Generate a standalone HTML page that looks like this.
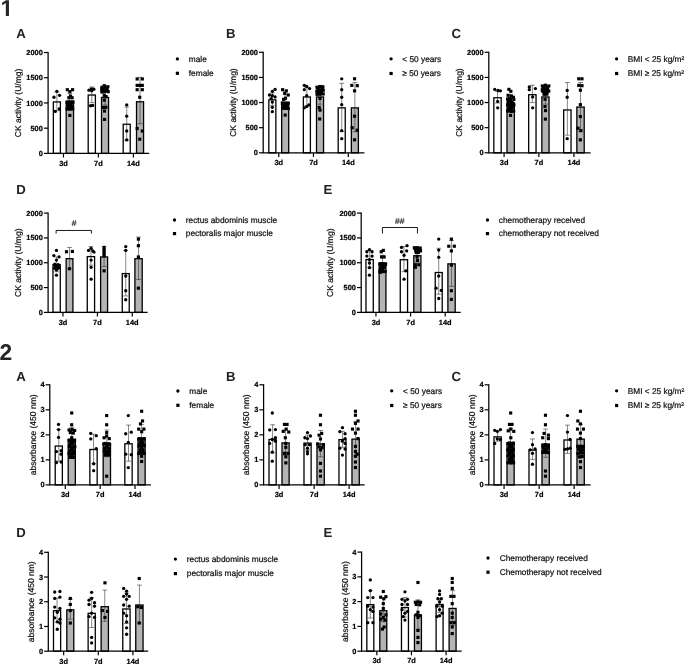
<!DOCTYPE html>
<html><head><meta charset="utf-8"><title>Figure</title>
<style>
html,body{margin:0;padding:0;background:#fff;}
body{width:685px;height:664px;overflow:hidden;font-family:"Liberation Sans", sans-serif;}
svg{display:block;filter:grayscale(1);font-family:"Liberation Sans", sans-serif;}
</style></head><body>
<svg width="685" height="664" viewBox="0 0 685 664" text-rendering="geometricPrecision">
<rect width="685" height="664" fill="#fff"/>
<text x="0.6" y="16.3" font-size="22.8" font-weight="700" fill="#262626">1</text>
<path d="M0 13H5.82V17H0ZM8.96 13H14V17H8.96Z" fill="#fff"/>
<text x="-0.6" y="360.2" font-size="22.8" font-weight="700" fill="#262626">2</text>
<!-- panel 1A -->
<rect x="53.35" y="101.93" width="7.03" height="51.47" fill="#fff" stroke="#000" stroke-width="1.3"/>
<path d="M56.86 92.12V110.75M54.46 92.12H59.26M54.46 110.75H59.26" stroke="#222" stroke-width="0.55" fill="none"/>
<circle cx="56.86" cy="91.32" r="1.65"/>
<circle cx="53.97" cy="97.26" r="1.65"/>
<circle cx="59.59" cy="95.33" r="1.65"/>
<circle cx="59.27" cy="108.98" r="1.65"/>
<circle cx="55.26" cy="111.39" r="1.65"/>
<rect x="66.19" y="101.77" width="7.35" height="51.63" fill="#b4b4b4" stroke="#000" stroke-width="1.3"/>
<path d="M69.87 93.72V108.82M67.47 93.72H72.27M67.47 108.82H72.27" stroke="#222" stroke-width="0.55" fill="none"/>
<rect x="65.73" y="88.13" width="3.15" height="3.15"/>
<rect x="71.02" y="88.13" width="3.15" height="3.15"/>
<rect x="68.29" y="90.06" width="3.15" height="3.15"/>
<rect x="67.33" y="96.16" width="3.15" height="3.15"/>
<rect x="70.54" y="96.16" width="3.15" height="3.15"/>
<rect x="68.94" y="94.56" width="3.15" height="3.15"/>
<rect x="66.05" y="100.5" width="3.15" height="3.15"/>
<rect x="68.62" y="100.5" width="3.15" height="3.15"/>
<rect x="71.02" y="100.98" width="3.15" height="3.15"/>
<rect x="66.53" y="103.07" width="3.15" height="3.15"/>
<rect x="69.26" y="103.39" width="3.15" height="3.15"/>
<rect x="67.33" y="105.48" width="3.15" height="3.15"/>
<rect x="70.22" y="105.8" width="3.15" height="3.15"/>
<rect x="68.29" y="107.41" width="3.15" height="3.15"/>
<rect x="68.29" y="113.83" width="3.15" height="3.15"/>
<rect x="65.52" y="100.62" width="3.15" height="3.15"/>
<rect x="68.27" y="100.53" width="3.15" height="3.15"/>
<rect x="71.29" y="100.25" width="3.15" height="3.15"/>
<rect x="66.77" y="104.03" width="3.15" height="3.15"/>
<rect x="69.58" y="104.18" width="3.15" height="3.15"/>
<rect x="65.51" y="107.41" width="3.15" height="3.15"/>
<rect x="68.23" y="107.45" width="3.15" height="3.15"/>
<rect x="71.11" y="107.37" width="3.15" height="3.15"/>
<rect x="88.2" y="95.03" width="7.19" height="58.37" fill="#fff" stroke="#000" stroke-width="1.3"/>
<path d="M91.79 86.98V102.56M89.39 86.98H94.19M89.39 102.56H94.19" stroke="#222" stroke-width="0.55" fill="none"/>
<circle cx="88.98" cy="90.19" r="1.65"/>
<circle cx="91.39" cy="88.91" r="1.65"/>
<circle cx="93.8" cy="89.23" r="1.65"/>
<circle cx="91.71" cy="90.83" r="1.65"/>
<circle cx="90.59" cy="105.77" r="1.65"/>
<circle cx="92.67" cy="105.45" r="1.65"/>
<rect x="101.52" y="97.44" width="7.03" height="55.96" fill="#b4b4b4" stroke="#000" stroke-width="1.3"/>
<path d="M105.04 88.91V104.97M102.64 88.91H107.44M102.64 104.97H107.44" stroke="#222" stroke-width="0.55" fill="none"/>
<rect x="102.66" y="84.12" width="3.15" height="3.15"/>
<rect x="100.25" y="87.01" width="3.15" height="3.15"/>
<rect x="102.66" y="87.33" width="3.15" height="3.15"/>
<rect x="105.39" y="87.01" width="3.15" height="3.15"/>
<rect x="100.25" y="89.26" width="3.15" height="3.15"/>
<rect x="102.98" y="89.74" width="3.15" height="3.15"/>
<rect x="105.87" y="89.26" width="3.15" height="3.15"/>
<rect x="102.66" y="93.76" width="3.15" height="3.15"/>
<rect x="104.59" y="95.04" width="3.15" height="3.15"/>
<rect x="102.66" y="98.57" width="3.15" height="3.15"/>
<rect x="101.54" y="105.8" width="3.15" height="3.15"/>
<rect x="104.27" y="105.8" width="3.15" height="3.15"/>
<rect x="102.98" y="109.49" width="3.15" height="3.15"/>
<rect x="102.98" y="117.84" width="3.15" height="3.15"/>
<rect x="100.46" y="85.65" width="3.15" height="3.15"/>
<rect x="103.37" y="85.17" width="3.15" height="3.15"/>
<rect x="106.3" y="85.17" width="3.15" height="3.15"/>
<rect x="102" y="87.83" width="3.15" height="3.15"/>
<rect x="105.01" y="87.87" width="3.15" height="3.15"/>
<rect x="100.48" y="90.5" width="3.15" height="3.15"/>
<rect x="103.26" y="89.99" width="3.15" height="3.15"/>
<rect x="106.64" y="90.14" width="3.15" height="3.15"/>
<rect x="123.2" y="124.25" width="7.03" height="29.15" fill="#fff" stroke="#000" stroke-width="1.3"/>
<path d="M126.72 107.05V140.3M124.32 107.05H129.12M124.32 140.3H129.12" stroke="#222" stroke-width="0.55" fill="none"/>
<circle cx="126.72" cy="104.97" r="1.65"/>
<circle cx="126.72" cy="116.21" r="1.65"/>
<circle cx="126.72" cy="130.98" r="1.65"/>
<circle cx="126.72" cy="139.97" r="1.65"/>
<rect x="136.53" y="101.77" width="7.03" height="51.63" fill="#b4b4b4" stroke="#000" stroke-width="1.3"/>
<path d="M140.05 77.34V123.75M137.65 77.34H142.45M137.65 123.75H142.45" stroke="#222" stroke-width="0.55" fill="none"/>
<rect x="135.58" y="77.37" width="3.15" height="3.15"/>
<rect x="140.72" y="77.37" width="3.15" height="3.15"/>
<rect x="135.58" y="83.8" width="3.15" height="3.15"/>
<rect x="138.15" y="83.8" width="3.15" height="3.15"/>
<rect x="140.72" y="83.8" width="3.15" height="3.15"/>
<rect x="135.58" y="88.13" width="3.15" height="3.15"/>
<rect x="140.72" y="88.13" width="3.15" height="3.15"/>
<rect x="138.15" y="95.68" width="3.15" height="3.15"/>
<rect x="135.58" y="127" width="3.15" height="3.15"/>
<rect x="140.72" y="129.41" width="3.15" height="3.15"/>
<rect x="138.15" y="137.6" width="3.15" height="3.15"/>
<path d="M48.1 52V153.9M47.6 153.4H149.2" stroke="#000" stroke-width="1.25" fill="none"/>
<path d="M43.9 153.4H48.1" stroke="#000" stroke-width="1.2"/>
<text x="42.8" y="155.95" text-anchor="end" font-size="7.4" font-weight="700" stroke="#000" stroke-width="0.22">0</text>
<path d="M43.9 128.18H48.1" stroke="#000" stroke-width="1.2"/>
<text x="42.8" y="130.73" text-anchor="end" font-size="7.4" font-weight="700" stroke="#000" stroke-width="0.22">500</text>
<path d="M43.9 102.95H48.1" stroke="#000" stroke-width="1.2"/>
<text x="42.8" y="105.5" text-anchor="end" font-size="7.4" font-weight="700" stroke="#000" stroke-width="0.22">1000</text>
<path d="M43.9 77.72H48.1" stroke="#000" stroke-width="1.2"/>
<text x="42.8" y="80.27" text-anchor="end" font-size="7.4" font-weight="700" stroke="#000" stroke-width="0.22">1500</text>
<path d="M43.9 52.5H48.1" stroke="#000" stroke-width="1.2"/>
<text x="42.8" y="55.05" text-anchor="end" font-size="7.4" font-weight="700" stroke="#000" stroke-width="0.22">2000</text>
<path d="M63.45 153.4V157.5" stroke="#000" stroke-width="1.2"/>
<text x="63.45" y="165.5" text-anchor="middle" font-size="7.4" font-weight="700" stroke="#000" stroke-width="0.22">3d</text>
<path d="M98.37 153.4V157.5" stroke="#000" stroke-width="1.2"/>
<text x="98.37" y="165.5" text-anchor="middle" font-size="7.4" font-weight="700" stroke="#000" stroke-width="0.22">7d</text>
<path d="M133.38 153.4V157.5" stroke="#000" stroke-width="1.2"/>
<text x="133.38" y="165.5" text-anchor="middle" font-size="7.4" font-weight="700" stroke="#000" stroke-width="0.22">14d</text>
<text transform="translate(20.9 102.95) rotate(-90)" text-anchor="middle" font-size="8.5" fill="#111" stroke="#111" stroke-width="0.22">CK activity (U/mg)</text>
<text x="16.3" y="38" font-size="13.2" font-weight="700" fill="#222">A</text>
<circle cx="177.4" cy="58.9" r="1.65"/>
<rect x="175.8" y="71.7" width="3.2" height="3.2"/>
<text x="188.8" y="61.7" font-size="8.3" fill="#111" stroke="#111" stroke-width="0.22">male</text>
<text x="188.8" y="76.1" font-size="8.3" fill="#111" stroke="#111" stroke-width="0.22">female</text>
<!-- panel 1B -->
<rect x="268.83" y="99.84" width="7.03" height="52.96" fill="#fff" stroke="#000" stroke-width="1.3"/>
<path d="M272.34 92.92V105.77M269.94 92.92H274.74M269.94 105.77H274.74" stroke="#222" stroke-width="0.55" fill="none"/>
<circle cx="275.07" cy="89.39" r="1.65"/>
<circle cx="272.34" cy="91.32" r="1.65"/>
<circle cx="269.45" cy="95.01" r="1.65"/>
<circle cx="272.34" cy="95.65" r="1.65"/>
<circle cx="275.07" cy="96.94" r="1.65"/>
<circle cx="271.06" cy="98.54" r="1.65"/>
<circle cx="272.34" cy="102.07" r="1.65"/>
<circle cx="272.34" cy="107.37" r="1.65"/>
<circle cx="272.34" cy="111.71" r="1.65"/>
<rect x="281.68" y="102.57" width="7.03" height="50.23" fill="#b4b4b4" stroke="#000" stroke-width="1.3"/>
<path d="M285.19 94.53V109.46M282.79 94.53H287.59M282.79 109.46H287.59" stroke="#222" stroke-width="0.55" fill="none"/>
<rect x="281.05" y="88.13" width="3.15" height="3.15"/>
<rect x="284.74" y="89.26" width="3.15" height="3.15"/>
<rect x="283.13" y="91.67" width="3.15" height="3.15"/>
<rect x="286.67" y="93.43" width="3.15" height="3.15"/>
<rect x="283.94" y="96.65" width="3.15" height="3.15"/>
<rect x="282.01" y="97.77" width="3.15" height="3.15"/>
<rect x="281.05" y="101.46" width="3.15" height="3.15"/>
<rect x="283.94" y="101.78" width="3.15" height="3.15"/>
<rect x="286.35" y="102.11" width="3.15" height="3.15"/>
<rect x="282.33" y="104.19" width="3.15" height="3.15"/>
<rect x="285.06" y="104.68" width="3.15" height="3.15"/>
<rect x="283.62" y="106.6" width="3.15" height="3.15"/>
<rect x="283.62" y="113.51" width="3.15" height="3.15"/>
<rect x="280.75" y="101.69" width="3.15" height="3.15"/>
<rect x="283.69" y="101.77" width="3.15" height="3.15"/>
<rect x="286.61" y="101.48" width="3.15" height="3.15"/>
<rect x="282.33" y="103.91" width="3.15" height="3.15"/>
<rect x="284.88" y="103.81" width="3.15" height="3.15"/>
<rect x="280.95" y="106.73" width="3.15" height="3.15"/>
<rect x="283.75" y="106.34" width="3.15" height="3.15"/>
<rect x="286.63" y="106.91" width="3.15" height="3.15"/>
<rect x="303.36" y="96.95" width="7.03" height="55.85" fill="#fff" stroke="#000" stroke-width="1.3"/>
<path d="M306.87 87.3V105.45M304.47 87.3H309.27M304.47 105.45H309.27" stroke="#222" stroke-width="0.55" fill="none"/>
<circle cx="304.3" cy="85.37" r="1.65"/>
<circle cx="306.71" cy="86.5" r="1.65"/>
<circle cx="309.6" cy="88.59" r="1.65"/>
<circle cx="304.3" cy="89.71" r="1.65"/>
<circle cx="306.71" cy="95.65" r="1.65"/>
<circle cx="308.8" cy="104.97" r="1.65"/>
<circle cx="306.71" cy="106.57" r="1.65"/>
<circle cx="304.3" cy="107.86" r="1.65"/>
<rect x="316.52" y="96.95" width="7.03" height="55.85" fill="#b4b4b4" stroke="#000" stroke-width="1.3"/>
<path d="M320.04 88.91V104.16M317.64 88.91H322.44M317.64 104.16H322.44" stroke="#222" stroke-width="0.55" fill="none"/>
<rect x="318.46" y="84.92" width="3.15" height="3.15"/>
<rect x="316.06" y="86.53" width="3.15" height="3.15"/>
<rect x="320.87" y="87.01" width="3.15" height="3.15"/>
<rect x="317.66" y="88.13" width="3.15" height="3.15"/>
<rect x="319.59" y="88.94" width="3.15" height="3.15"/>
<rect x="321.68" y="88.62" width="3.15" height="3.15"/>
<rect x="315.25" y="89.74" width="3.15" height="3.15"/>
<rect x="317.18" y="90.54" width="3.15" height="3.15"/>
<rect x="320.07" y="91.35" width="3.15" height="3.15"/>
<rect x="318.46" y="92.63" width="3.15" height="3.15"/>
<rect x="318.46" y="96.97" width="3.15" height="3.15"/>
<rect x="317.66" y="105.8" width="3.15" height="3.15"/>
<rect x="318.46" y="108.53" width="3.15" height="3.15"/>
<rect x="318.14" y="117.36" width="3.15" height="3.15"/>
<rect x="315.46" y="85.65" width="3.15" height="3.15"/>
<rect x="318.37" y="85.17" width="3.15" height="3.15"/>
<rect x="321.3" y="85.17" width="3.15" height="3.15"/>
<rect x="317" y="88.95" width="3.15" height="3.15"/>
<rect x="320.01" y="88.99" width="3.15" height="3.15"/>
<rect x="315.48" y="92.75" width="3.15" height="3.15"/>
<rect x="318.26" y="92.23" width="3.15" height="3.15"/>
<rect x="321.64" y="92.39" width="3.15" height="3.15"/>
<rect x="338.2" y="107.87" width="7.03" height="44.93" fill="#fff" stroke="#000" stroke-width="1.3"/>
<path d="M341.72 83.29V131.46M339.32 83.29H344.12M339.32 131.46H344.12" stroke="#222" stroke-width="0.55" fill="none"/>
<circle cx="341.72" cy="78.79" r="1.65"/>
<circle cx="341.72" cy="89.71" r="1.65"/>
<circle cx="341.72" cy="97.26" r="1.65"/>
<circle cx="341.72" cy="104.64" r="1.65"/>
<circle cx="341.72" cy="130.66" r="1.65"/>
<circle cx="341.72" cy="138.69" r="1.65"/>
<rect x="351.37" y="107.87" width="7.03" height="44.93" fill="#b4b4b4" stroke="#000" stroke-width="1.3"/>
<path d="M354.89 82.48V131.78M352.49 82.48H357.29M352.49 131.78H357.29" stroke="#222" stroke-width="0.55" fill="none"/>
<rect x="352.99" y="77.21" width="3.15" height="3.15"/>
<rect x="350.26" y="83.8" width="3.15" height="3.15"/>
<rect x="355.72" y="84.12" width="3.15" height="3.15"/>
<rect x="352.99" y="89.26" width="3.15" height="3.15"/>
<rect x="352.99" y="114.63" width="3.15" height="3.15"/>
<rect x="350.58" y="126.19" width="3.15" height="3.15"/>
<rect x="355.72" y="128.6" width="3.15" height="3.15"/>
<rect x="352.99" y="138.24" width="3.15" height="3.15"/>
<path d="M263.2 51.8V153.3M262.7 152.8H364.4" stroke="#000" stroke-width="1.25" fill="none"/>
<path d="M259 152.8H263.2" stroke="#000" stroke-width="1.2"/>
<text x="257.9" y="155.35" text-anchor="end" font-size="7.4" font-weight="700" stroke="#000" stroke-width="0.22">0</text>
<path d="M259 127.68H263.2" stroke="#000" stroke-width="1.2"/>
<text x="257.9" y="130.23" text-anchor="end" font-size="7.4" font-weight="700" stroke="#000" stroke-width="0.22">500</text>
<path d="M259 102.55H263.2" stroke="#000" stroke-width="1.2"/>
<text x="257.9" y="105.1" text-anchor="end" font-size="7.4" font-weight="700" stroke="#000" stroke-width="0.22">1000</text>
<path d="M259 77.42H263.2" stroke="#000" stroke-width="1.2"/>
<text x="257.9" y="79.97" text-anchor="end" font-size="7.4" font-weight="700" stroke="#000" stroke-width="0.22">1500</text>
<path d="M259 52.3H263.2" stroke="#000" stroke-width="1.2"/>
<text x="257.9" y="54.85" text-anchor="end" font-size="7.4" font-weight="700" stroke="#000" stroke-width="0.22">2000</text>
<path d="M278.77 152.8V156.9" stroke="#000" stroke-width="1.2"/>
<text x="278.77" y="164.9" text-anchor="middle" font-size="7.4" font-weight="700" stroke="#000" stroke-width="0.22">3d</text>
<path d="M313.46 152.8V156.9" stroke="#000" stroke-width="1.2"/>
<text x="313.46" y="164.9" text-anchor="middle" font-size="7.4" font-weight="700" stroke="#000" stroke-width="0.22">7d</text>
<path d="M348.3 152.8V156.9" stroke="#000" stroke-width="1.2"/>
<text x="348.3" y="164.9" text-anchor="middle" font-size="7.4" font-weight="700" stroke="#000" stroke-width="0.22">14d</text>
<text transform="translate(236 102.55) rotate(-90)" text-anchor="middle" font-size="8.5" fill="#111" stroke="#111" stroke-width="0.22">CK activity (U/mg)</text>
<text x="226" y="38" font-size="13.2" font-weight="700" fill="#222">B</text>
<circle cx="391.1" cy="58.8" r="1.65"/>
<rect x="389.5" y="71.9" width="3.2" height="3.2"/>
<text x="402.3" y="61.6" font-size="8.3" fill="#111" stroke="#111" stroke-width="0.22">< 50 years</text>
<text x="402.3" y="76.3" font-size="8.3" fill="#111" stroke="#111" stroke-width="0.22">≥ 50 years</text>
<!-- panel 1C -->
<rect x="493.83" y="97.76" width="7.35" height="55.04" fill="#fff" stroke="#000" stroke-width="1.3"/>
<path d="M497.5 91.32V103.04M495.1 91.32H499.9M495.1 103.04H499.9" stroke="#222" stroke-width="0.55" fill="none"/>
<circle cx="494.77" cy="89.39" r="1.65"/>
<circle cx="497.99" cy="90.51" r="1.65"/>
<circle cx="500.4" cy="90.83" r="1.65"/>
<circle cx="497.67" cy="101.43" r="1.65"/>
<circle cx="497.67" cy="107.86" r="1.65"/>
<rect x="507" y="103.06" width="7.35" height="49.74" fill="#b4b4b4" stroke="#000" stroke-width="1.3"/>
<path d="M510.67 94.53V110.1M508.27 94.53H513.07M508.27 110.1H513.07" stroke="#222" stroke-width="0.55" fill="none"/>
<rect x="507.33" y="87.81" width="3.15" height="3.15"/>
<rect x="509.26" y="89.74" width="3.15" height="3.15"/>
<rect x="506.53" y="93.76" width="3.15" height="3.15"/>
<rect x="509.74" y="94.56" width="3.15" height="3.15"/>
<rect x="511.83" y="95.68" width="3.15" height="3.15"/>
<rect x="508.13" y="96.97" width="3.15" height="3.15"/>
<rect x="506.53" y="99.86" width="3.15" height="3.15"/>
<rect x="509.74" y="100.5" width="3.15" height="3.15"/>
<rect x="511.35" y="101.78" width="3.15" height="3.15"/>
<rect x="507.65" y="103.07" width="3.15" height="3.15"/>
<rect x="510.22" y="104.19" width="3.15" height="3.15"/>
<rect x="508.62" y="106.28" width="3.15" height="3.15"/>
<rect x="507.33" y="108.21" width="3.15" height="3.15"/>
<rect x="509.74" y="109.49" width="3.15" height="3.15"/>
<rect x="508.94" y="113.83" width="3.15" height="3.15"/>
<rect x="506" y="97.48" width="3.15" height="3.15"/>
<rect x="509.11" y="97.84" width="3.15" height="3.15"/>
<rect x="512.28" y="97.77" width="3.15" height="3.15"/>
<rect x="507.65" y="101" width="3.15" height="3.15"/>
<rect x="510.5" y="100.7" width="3.15" height="3.15"/>
<rect x="506.03" y="103.45" width="3.15" height="3.15"/>
<rect x="508.88" y="103.82" width="3.15" height="3.15"/>
<rect x="512.31" y="103.32" width="3.15" height="3.15"/>
<rect x="507.45" y="106.7" width="3.15" height="3.15"/>
<rect x="510.67" y="106.43" width="3.15" height="3.15"/>
<rect x="506.14" y="109.44" width="3.15" height="3.15"/>
<rect x="509.23" y="109.78" width="3.15" height="3.15"/>
<rect x="512.11" y="109.69" width="3.15" height="3.15"/>
<rect x="528.68" y="94.71" width="7.35" height="58.09" fill="#fff" stroke="#000" stroke-width="1.3"/>
<path d="M532.35 85.21V102.56M529.95 85.21H534.75M529.95 102.56H534.75" stroke="#222" stroke-width="0.55" fill="none"/>
<circle cx="529.3" cy="86.98" r="1.65"/>
<circle cx="529.3" cy="89.71" r="1.65"/>
<circle cx="535.4" cy="88.59" r="1.65"/>
<circle cx="532.67" cy="96.94" r="1.65"/>
<circle cx="532.67" cy="107.86" r="1.65"/>
<rect x="541.85" y="96.95" width="7.19" height="55.85" fill="#b4b4b4" stroke="#000" stroke-width="1.3"/>
<path d="M545.44 88.59V104.16M543.04 88.59H547.84M543.04 104.16H547.84" stroke="#222" stroke-width="0.55" fill="none"/>
<rect x="543.79" y="83.64" width="3.15" height="3.15"/>
<rect x="541.86" y="86.05" width="3.15" height="3.15"/>
<rect x="545.87" y="86.05" width="3.15" height="3.15"/>
<rect x="540.73" y="88.13" width="3.15" height="3.15"/>
<rect x="543.46" y="88.13" width="3.15" height="3.15"/>
<rect x="546.19" y="88.62" width="3.15" height="3.15"/>
<rect x="542.18" y="90.22" width="3.15" height="3.15"/>
<rect x="545.07" y="90.54" width="3.15" height="3.15"/>
<rect x="543.46" y="92.47" width="3.15" height="3.15"/>
<rect x="543.46" y="97.77" width="3.15" height="3.15"/>
<rect x="543.46" y="105" width="3.15" height="3.15"/>
<rect x="543.95" y="109.01" width="3.15" height="3.15"/>
<rect x="543.79" y="117.52" width="3.15" height="3.15"/>
<rect x="540.76" y="84.38" width="3.15" height="3.15"/>
<rect x="543.91" y="84.34" width="3.15" height="3.15"/>
<rect x="547.22" y="84.37" width="3.15" height="3.15"/>
<rect x="542.23" y="86.6" width="3.15" height="3.15"/>
<rect x="545.41" y="86.85" width="3.15" height="3.15"/>
<rect x="540.93" y="89.42" width="3.15" height="3.15"/>
<rect x="543.98" y="89.78" width="3.15" height="3.15"/>
<rect x="547.22" y="89.6" width="3.15" height="3.15"/>
<rect x="542.48" y="92.67" width="3.15" height="3.15"/>
<rect x="545.4" y="92.5" width="3.15" height="3.15"/>
<rect x="563.69" y="109.96" width="7.35" height="42.84" fill="#fff" stroke="#000" stroke-width="1.3"/>
<path d="M567.36 82.48V135.16M564.96 82.48H569.76M564.96 135.16H569.76" stroke="#222" stroke-width="0.55" fill="none"/>
<circle cx="567.2" cy="90.51" r="1.65"/>
<circle cx="567.2" cy="97.26" r="1.65"/>
<circle cx="567.2" cy="138.69" r="1.65"/>
<rect x="576.85" y="107.07" width="7.35" height="45.73" fill="#b4b4b4" stroke="#000" stroke-width="1.3"/>
<path d="M580.53 82.48V131.46M578.13 82.48H582.93M578.13 131.46H582.93" stroke="#222" stroke-width="0.55" fill="none"/>
<rect x="577.19" y="77.21" width="3.15" height="3.15"/>
<rect x="580.4" y="77.21" width="3.15" height="3.15"/>
<rect x="577.19" y="83.8" width="3.15" height="3.15"/>
<rect x="580.4" y="84.12" width="3.15" height="3.15"/>
<rect x="578.79" y="88.62" width="3.15" height="3.15"/>
<rect x="578.79" y="103.07" width="3.15" height="3.15"/>
<rect x="578.79" y="114.95" width="3.15" height="3.15"/>
<rect x="576.39" y="126.68" width="3.15" height="3.15"/>
<rect x="579.28" y="129.09" width="3.15" height="3.15"/>
<rect x="578.79" y="138.24" width="3.15" height="3.15"/>
<path d="M488.8 51.8V153.3M488.3 152.8H590.6" stroke="#000" stroke-width="1.25" fill="none"/>
<path d="M484.6 152.8H488.8" stroke="#000" stroke-width="1.2"/>
<text x="483.5" y="155.35" text-anchor="end" font-size="7.4" font-weight="700" stroke="#000" stroke-width="0.22">0</text>
<path d="M484.6 127.68H488.8" stroke="#000" stroke-width="1.2"/>
<text x="483.5" y="130.23" text-anchor="end" font-size="7.4" font-weight="700" stroke="#000" stroke-width="0.22">500</text>
<path d="M484.6 102.55H488.8" stroke="#000" stroke-width="1.2"/>
<text x="483.5" y="105.1" text-anchor="end" font-size="7.4" font-weight="700" stroke="#000" stroke-width="0.22">1000</text>
<path d="M484.6 77.42H488.8" stroke="#000" stroke-width="1.2"/>
<text x="483.5" y="79.97" text-anchor="end" font-size="7.4" font-weight="700" stroke="#000" stroke-width="0.22">1500</text>
<path d="M484.6 52.3H488.8" stroke="#000" stroke-width="1.2"/>
<text x="483.5" y="54.85" text-anchor="end" font-size="7.4" font-weight="700" stroke="#000" stroke-width="0.22">2000</text>
<path d="M504.09 152.8V156.9" stroke="#000" stroke-width="1.2"/>
<text x="504.09" y="164.9" text-anchor="middle" font-size="7.4" font-weight="700" stroke="#000" stroke-width="0.22">3d</text>
<path d="M538.86 152.8V156.9" stroke="#000" stroke-width="1.2"/>
<text x="538.86" y="164.9" text-anchor="middle" font-size="7.4" font-weight="700" stroke="#000" stroke-width="0.22">7d</text>
<path d="M573.95 152.8V156.9" stroke="#000" stroke-width="1.2"/>
<text x="573.95" y="164.9" text-anchor="middle" font-size="7.4" font-weight="700" stroke="#000" stroke-width="0.22">14d</text>
<text transform="translate(462.2 102.55) rotate(-90)" text-anchor="middle" font-size="8.5" fill="#111" stroke="#111" stroke-width="0.22">CK activity (U/mg)</text>
<text x="451.5" y="38" font-size="13.2" font-weight="700" fill="#222">C</text>
<circle cx="616.6" cy="58.8" r="1.65"/>
<rect x="615" y="71.9" width="3.2" height="3.2"/>
<text x="627.8" y="61.6" font-size="8.3" fill="#111" stroke="#111" stroke-width="0.22">BMI < 25 kg/m²</text>
<text x="627.8" y="76.3" font-size="8.3" fill="#111" stroke="#111" stroke-width="0.22">BMI ≥ 25 kg/m²</text>
<!-- panel 1D -->
<rect x="52.97" y="264.74" width="7.31" height="47.66" fill="#fff" stroke="#000" stroke-width="1.3"/>
<path d="M56.63 256.97V271.69M54.23 256.97H59.03M54.23 271.69H59.03" stroke="#222" stroke-width="0.55" fill="none"/>
<circle cx="56.46" cy="250.38" r="1.65"/>
<circle cx="53.86" cy="255.58" r="1.65"/>
<circle cx="59.05" cy="256.97" r="1.65"/>
<circle cx="56.46" cy="260.08" r="1.65"/>
<circle cx="54.72" cy="264.24" r="1.65"/>
<circle cx="58.19" cy="264.76" r="1.65"/>
<circle cx="56.46" cy="266.49" r="1.65"/>
<circle cx="54.38" cy="268.23" r="1.65"/>
<circle cx="58.71" cy="267.71" r="1.65"/>
<circle cx="56.46" cy="269.96" r="1.65"/>
<circle cx="56.46" cy="275.15" r="1.65"/>
<circle cx="55.08" cy="265.29" r="1.65"/>
<circle cx="56.86" cy="265.41" r="1.65"/>
<circle cx="58.59" cy="265.44" r="1.65"/>
<circle cx="55.94" cy="268.13" r="1.65"/>
<circle cx="57.68" cy="268.51" r="1.65"/>
<rect x="66.14" y="258.68" width="6.79" height="53.72" fill="#b4b4b4" stroke="#000" stroke-width="1.3"/>
<path d="M69.53 247.44V268.75M67.13 247.44H71.93M67.13 268.75H71.93" stroke="#222" stroke-width="0.55" fill="none"/>
<rect x="64.93" y="250.19" width="3.15" height="3.15"/>
<rect x="70.82" y="249.85" width="3.15" height="3.15"/>
<rect x="67.87" y="267.17" width="3.15" height="3.15"/>
<rect x="87.27" y="256.6" width="7.31" height="55.8" fill="#fff" stroke="#000" stroke-width="1.3"/>
<path d="M90.93 246.57V265.28M88.53 246.57H93.33M88.53 265.28H93.33" stroke="#222" stroke-width="0.55" fill="none"/>
<circle cx="88.5" cy="250.38" r="1.65"/>
<circle cx="91.1" cy="248.31" r="1.65"/>
<circle cx="92.83" cy="250.9" r="1.65"/>
<circle cx="94.04" cy="252.12" r="1.65"/>
<circle cx="91.1" cy="260.08" r="1.65"/>
<circle cx="91.1" cy="267.36" r="1.65"/>
<circle cx="91.1" cy="279.14" r="1.65"/>
<rect x="100.61" y="256.95" width="6.97" height="55.45" fill="#b4b4b4" stroke="#000" stroke-width="1.3"/>
<path d="M104.09 246.57V266.49M101.69 246.57H106.49M101.69 266.49H106.49" stroke="#222" stroke-width="0.55" fill="none"/>
<rect x="102.52" y="245.86" width="3.15" height="3.15"/>
<rect x="102.52" y="248.12" width="3.15" height="3.15"/>
<rect x="102.52" y="250.19" width="3.15" height="3.15"/>
<rect x="102.52" y="252.27" width="3.15" height="3.15"/>
<rect x="102.52" y="254.18" width="3.15" height="3.15"/>
<rect x="102.52" y="269.25" width="3.15" height="3.15"/>
<rect x="122.26" y="273.58" width="6.97" height="38.82" fill="#fff" stroke="#000" stroke-width="1.3"/>
<path d="M125.74 250.38V295.94M123.34 250.38H128.14M123.34 295.94H128.14" stroke="#222" stroke-width="0.55" fill="none"/>
<circle cx="125.74" cy="246.57" r="1.65"/>
<circle cx="125.74" cy="250.38" r="1.65"/>
<circle cx="125.74" cy="276.02" r="1.65"/>
<circle cx="125.74" cy="290.74" r="1.65"/>
<circle cx="125.74" cy="299.75" r="1.65"/>
<rect x="134.9" y="258.68" width="7.31" height="53.72" fill="#b4b4b4" stroke="#000" stroke-width="1.3"/>
<path d="M138.56 237.05V279.48M136.16 237.05H140.96M136.16 279.48H140.96" stroke="#222" stroke-width="0.55" fill="none"/>
<rect x="136.81" y="237.55" width="3.15" height="3.15"/>
<rect x="136.81" y="244.13" width="3.15" height="3.15"/>
<rect x="136.81" y="255.39" width="3.15" height="3.15"/>
<rect x="136.81" y="286.57" width="3.15" height="3.15"/>
<path d="M48.1 212.6V312.9M47.6 312.4H147.6" stroke="#000" stroke-width="1.25" fill="none"/>
<path d="M43.9 312.4H48.1" stroke="#000" stroke-width="1.2"/>
<text x="42.8" y="314.95" text-anchor="end" font-size="7.4" font-weight="700" stroke="#000" stroke-width="0.22">0</text>
<path d="M43.9 287.57H48.1" stroke="#000" stroke-width="1.2"/>
<text x="42.8" y="290.12" text-anchor="end" font-size="7.4" font-weight="700" stroke="#000" stroke-width="0.22">500</text>
<path d="M43.9 262.75H48.1" stroke="#000" stroke-width="1.2"/>
<text x="42.8" y="265.3" text-anchor="end" font-size="7.4" font-weight="700" stroke="#000" stroke-width="0.22">1000</text>
<path d="M43.9 237.92H48.1" stroke="#000" stroke-width="1.2"/>
<text x="42.8" y="240.47" text-anchor="end" font-size="7.4" font-weight="700" stroke="#000" stroke-width="0.22">1500</text>
<path d="M43.9 213.1H48.1" stroke="#000" stroke-width="1.2"/>
<text x="42.8" y="215.65" text-anchor="end" font-size="7.4" font-weight="700" stroke="#000" stroke-width="0.22">2000</text>
<path d="M62.95 312.4V316.5" stroke="#000" stroke-width="1.2"/>
<text x="62.95" y="324.5" text-anchor="middle" font-size="7.4" font-weight="700" stroke="#000" stroke-width="0.22">3d</text>
<path d="M97.42 312.4V316.5" stroke="#000" stroke-width="1.2"/>
<text x="97.42" y="324.5" text-anchor="middle" font-size="7.4" font-weight="700" stroke="#000" stroke-width="0.22">7d</text>
<path d="M132.24 312.4V316.5" stroke="#000" stroke-width="1.2"/>
<text x="132.24" y="324.5" text-anchor="middle" font-size="7.4" font-weight="700" stroke="#000" stroke-width="0.22">14d</text>
<text transform="translate(20.9 262.75) rotate(-90)" text-anchor="middle" font-size="8.5" fill="#111" stroke="#111" stroke-width="0.22">CK activity (U/mg)</text>
<text x="16.3" y="194.1" font-size="13.2" font-weight="700" fill="#222">D</text>
<circle cx="174.5" cy="220" r="1.65"/>
<rect x="172.9" y="232" width="3.2" height="3.2"/>
<text x="185.8" y="222.8" font-size="8.3" fill="#111" stroke="#111" stroke-width="0.22">rectus abdominis muscle</text>
<text x="185.8" y="236.4" font-size="8.3" fill="#111" stroke="#111" stroke-width="0.22">pectoralis major muscle</text>
<path d="M56.11 233.58V230.46H91.45V233.58" stroke="#111" stroke-width="0.95" fill="none"/>
<text x="74.12" y="225.8" text-anchor="middle" font-size="8.5" fill="#222" stroke="#222" stroke-width="0.15">#</text>
<!-- panel 1E -->
<rect x="365.97" y="259.54" width="7.31" height="52.86" fill="#fff" stroke="#000" stroke-width="1.3"/>
<path d="M369.63 250.38V267.69M367.23 250.38H372.03M367.23 267.69H372.03" stroke="#222" stroke-width="0.55" fill="none"/>
<circle cx="369.45" cy="249.68" r="1.65"/>
<circle cx="366.86" cy="251.76" r="1.65"/>
<circle cx="372.05" cy="251.76" r="1.65"/>
<circle cx="366.86" cy="256.09" r="1.65"/>
<circle cx="372.05" cy="256.09" r="1.65"/>
<circle cx="369.45" cy="259.55" r="1.65"/>
<circle cx="369.45" cy="263.02" r="1.65"/>
<circle cx="369.45" cy="267.69" r="1.65"/>
<circle cx="369.45" cy="275.14" r="1.65"/>
<rect x="379.13" y="263.52" width="6.79" height="48.88" fill="#b4b4b4" stroke="#000" stroke-width="1.3"/>
<path d="M382.53 255.23V270.81M380.13 255.23H384.93M380.13 270.81H384.93" stroke="#222" stroke-width="0.55" fill="none"/>
<rect x="381.73" y="248.8" width="3.15" height="3.15"/>
<rect x="379.65" y="250.19" width="3.15" height="3.15"/>
<rect x="380" y="255.38" width="3.15" height="3.15"/>
<rect x="382.6" y="255.38" width="3.15" height="3.15"/>
<rect x="378.79" y="262.31" width="3.15" height="3.15"/>
<rect x="381.21" y="262.66" width="3.15" height="3.15"/>
<rect x="383.64" y="263.18" width="3.15" height="3.15"/>
<rect x="380" y="265.43" width="3.15" height="3.15"/>
<rect x="382.6" y="265.77" width="3.15" height="3.15"/>
<rect x="378.79" y="267.85" width="3.15" height="3.15"/>
<rect x="381.21" y="268.89" width="3.15" height="3.15"/>
<rect x="378.79" y="270.62" width="3.15" height="3.15"/>
<rect x="378.46" y="262.3" width="3.15" height="3.15"/>
<rect x="381.28" y="262.01" width="3.15" height="3.15"/>
<rect x="384.03" y="262.25" width="3.15" height="3.15"/>
<rect x="379.7" y="266.08" width="3.15" height="3.15"/>
<rect x="382.52" y="265.69" width="3.15" height="3.15"/>
<rect x="378.37" y="270.01" width="3.15" height="3.15"/>
<rect x="381.02" y="270.06" width="3.15" height="3.15"/>
<rect x="383.61" y="269.91" width="3.15" height="3.15"/>
<rect x="400.26" y="259.71" width="7.31" height="52.69" fill="#fff" stroke="#000" stroke-width="1.3"/>
<path d="M403.92 246.57V271.68M401.52 246.57H406.32M401.52 271.68H406.32" stroke="#222" stroke-width="0.55" fill="none"/>
<circle cx="407.04" cy="245.7" r="1.65"/>
<circle cx="401.49" cy="247.43" r="1.65"/>
<circle cx="401.49" cy="251.76" r="1.65"/>
<circle cx="406.69" cy="250.9" r="1.65"/>
<circle cx="404.09" cy="255.23" r="1.65"/>
<circle cx="405.82" cy="270.81" r="1.65"/>
<circle cx="404.09" cy="279.13" r="1.65"/>
<rect x="413.77" y="255.73" width="7.14" height="56.67" fill="#b4b4b4" stroke="#000" stroke-width="1.3"/>
<path d="M417.34 248.3V262.15M414.94 248.3H419.74M414.94 262.15H419.74" stroke="#222" stroke-width="0.55" fill="none"/>
<rect x="413.43" y="246.72" width="3.15" height="3.15"/>
<rect x="415.85" y="246.38" width="3.15" height="3.15"/>
<rect x="418.28" y="246.72" width="3.15" height="3.15"/>
<rect x="414.12" y="248.8" width="3.15" height="3.15"/>
<rect x="416.89" y="248.8" width="3.15" height="3.15"/>
<rect x="418.97" y="249.32" width="3.15" height="3.15"/>
<rect x="415.51" y="251.05" width="3.15" height="3.15"/>
<rect x="415.51" y="255.38" width="3.15" height="3.15"/>
<rect x="415.85" y="258.85" width="3.15" height="3.15"/>
<rect x="413.77" y="263.18" width="3.15" height="3.15"/>
<rect x="417.24" y="263.18" width="3.15" height="3.15"/>
<rect x="413.77" y="265.77" width="3.15" height="3.15"/>
<rect x="412.75" y="246.17" width="3.15" height="3.15"/>
<rect x="415.64" y="246.25" width="3.15" height="3.15"/>
<rect x="418.51" y="246.64" width="3.15" height="3.15"/>
<rect x="414.55" y="250.8" width="3.15" height="3.15"/>
<rect x="416.98" y="250.76" width="3.15" height="3.15"/>
<rect x="435.25" y="272.52" width="6.97" height="39.88" fill="#fff" stroke="#000" stroke-width="1.3"/>
<path d="M438.73 248.3V294.19M436.33 248.3H441.13M436.33 294.19H441.13" stroke="#222" stroke-width="0.55" fill="none"/>
<circle cx="438.73" cy="239.12" r="1.65"/>
<circle cx="438.73" cy="250.03" r="1.65"/>
<circle cx="438.73" cy="257.3" r="1.65"/>
<circle cx="438.73" cy="276.01" r="1.65"/>
<circle cx="436.13" cy="288.13" r="1.65"/>
<circle cx="441.33" cy="290.38" r="1.65"/>
<circle cx="438.73" cy="298.52" r="1.65"/>
<rect x="447.89" y="263.87" width="7.31" height="48.53" fill="#b4b4b4" stroke="#000" stroke-width="1.3"/>
<path d="M451.55 240.5V286.4M449.15 240.5H453.95M449.15 286.4H453.95" stroke="#222" stroke-width="0.55" fill="none"/>
<rect x="449.8" y="237.54" width="3.15" height="3.15"/>
<rect x="447.2" y="244.64" width="3.15" height="3.15"/>
<rect x="452.74" y="244.64" width="3.15" height="3.15"/>
<rect x="449.8" y="249.32" width="3.15" height="3.15"/>
<rect x="449.8" y="263.52" width="3.15" height="3.15"/>
<rect x="449.8" y="289.15" width="3.15" height="3.15"/>
<rect x="449.8" y="297.81" width="3.15" height="3.15"/>
<path d="M361.2 212.6V312.9M360.7 312.4H460.7" stroke="#000" stroke-width="1.25" fill="none"/>
<path d="M357 312.4H361.2" stroke="#000" stroke-width="1.2"/>
<text x="355.9" y="314.95" text-anchor="end" font-size="7.4" font-weight="700" stroke="#000" stroke-width="0.22">0</text>
<path d="M357 287.57H361.2" stroke="#000" stroke-width="1.2"/>
<text x="355.9" y="290.12" text-anchor="end" font-size="7.4" font-weight="700" stroke="#000" stroke-width="0.22">500</text>
<path d="M357 262.75H361.2" stroke="#000" stroke-width="1.2"/>
<text x="355.9" y="265.3" text-anchor="end" font-size="7.4" font-weight="700" stroke="#000" stroke-width="0.22">1000</text>
<path d="M357 237.92H361.2" stroke="#000" stroke-width="1.2"/>
<text x="355.9" y="240.47" text-anchor="end" font-size="7.4" font-weight="700" stroke="#000" stroke-width="0.22">1500</text>
<path d="M357 213.1H361.2" stroke="#000" stroke-width="1.2"/>
<text x="355.9" y="215.65" text-anchor="end" font-size="7.4" font-weight="700" stroke="#000" stroke-width="0.22">2000</text>
<path d="M375.95 312.4V316.5" stroke="#000" stroke-width="1.2"/>
<text x="375.95" y="324.5" text-anchor="middle" font-size="7.4" font-weight="700" stroke="#000" stroke-width="0.22">3d</text>
<path d="M410.59 312.4V316.5" stroke="#000" stroke-width="1.2"/>
<text x="410.59" y="324.5" text-anchor="middle" font-size="7.4" font-weight="700" stroke="#000" stroke-width="0.22">7d</text>
<path d="M445.22 312.4V316.5" stroke="#000" stroke-width="1.2"/>
<text x="445.22" y="324.5" text-anchor="middle" font-size="7.4" font-weight="700" stroke="#000" stroke-width="0.22">14d</text>
<text transform="translate(333.2 262.75) rotate(-90)" text-anchor="middle" font-size="8.5" fill="#111" stroke="#111" stroke-width="0.22">CK activity (U/mg)</text>
<text x="323.5" y="194.1" font-size="13.2" font-weight="700" fill="#222">E</text>
<circle cx="487.5" cy="220" r="1.65"/>
<rect x="485.9" y="232" width="3.2" height="3.2"/>
<text x="498.8" y="222.8" font-size="8.3" fill="#111" stroke="#111" stroke-width="0.22">chemotherapy received</text>
<text x="498.8" y="236.4" font-size="8.3" fill="#111" stroke="#111" stroke-width="0.22">chemotherapy not received</text>
<path d="M382.44 233.58V227.51H417.43V233.58" stroke="#111" stroke-width="0.95" fill="none"/>
<text x="399.76" y="223.5" text-anchor="middle" font-size="8.5" fill="#222" stroke="#222" stroke-width="0.15">##</text>
<!-- panel 2A -->
<rect x="55.22" y="446.04" width="7.14" height="38.86" fill="#fff" stroke="#000" stroke-width="1.3"/>
<path d="M58.79 429.61V461.13M56.39 429.61H61.19M56.39 461.13H61.19" stroke="#222" stroke-width="0.55" fill="none"/>
<circle cx="58.53" cy="424.41" r="1.65"/>
<circle cx="58.53" cy="429.61" r="1.65"/>
<circle cx="58.53" cy="437.4" r="1.65"/>
<circle cx="56.45" cy="451.61" r="1.65"/>
<circle cx="61.13" cy="450.74" r="1.65"/>
<circle cx="61.13" cy="454.2" r="1.65"/>
<circle cx="56.45" cy="462.52" r="1.65"/>
<circle cx="61.13" cy="462" r="1.65"/>
<rect x="68.21" y="439.64" width="7.14" height="45.26" fill="#b4b4b4" stroke="#000" stroke-width="1.3"/>
<path d="M71.78 427.36V450.74M69.38 427.36H74.18M69.38 450.74H74.18" stroke="#222" stroke-width="0.55" fill="none"/>
<rect x="70.12" y="411.41" width="3.15" height="3.15"/>
<rect x="70.12" y="423.19" width="3.15" height="3.15"/>
<rect x="67.52" y="428.38" width="3.15" height="3.15"/>
<rect x="70.47" y="428.04" width="3.15" height="3.15"/>
<rect x="73.06" y="428.9" width="3.15" height="3.15"/>
<rect x="68.73" y="430.98" width="3.15" height="3.15"/>
<rect x="71.68" y="431.5" width="3.15" height="3.15"/>
<rect x="70.12" y="436.18" width="3.15" height="3.15"/>
<rect x="67.87" y="438.77" width="3.15" height="3.15"/>
<rect x="72.2" y="439.12" width="3.15" height="3.15"/>
<rect x="70.12" y="441.89" width="3.15" height="3.15"/>
<rect x="68.21" y="444.84" width="3.15" height="3.15"/>
<rect x="72.2" y="445.35" width="3.15" height="3.15"/>
<rect x="70.12" y="447.78" width="3.15" height="3.15"/>
<rect x="67.87" y="450.55" width="3.15" height="3.15"/>
<rect x="72.2" y="450.9" width="3.15" height="3.15"/>
<rect x="70.12" y="453.49" width="3.15" height="3.15"/>
<rect x="68.73" y="455.75" width="3.15" height="3.15"/>
<rect x="71.68" y="455.75" width="3.15" height="3.15"/>
<rect x="67.68" y="438.58" width="3.15" height="3.15"/>
<rect x="70.54" y="439.08" width="3.15" height="3.15"/>
<rect x="73.04" y="438.55" width="3.15" height="3.15"/>
<rect x="68.98" y="442.26" width="3.15" height="3.15"/>
<rect x="71.54" y="441.72" width="3.15" height="3.15"/>
<rect x="67.76" y="445.04" width="3.15" height="3.15"/>
<rect x="70.2" y="445.57" width="3.15" height="3.15"/>
<rect x="73.23" y="445.14" width="3.15" height="3.15"/>
<rect x="68.68" y="448.58" width="3.15" height="3.15"/>
<rect x="71.57" y="448.36" width="3.15" height="3.15"/>
<rect x="67.4" y="452.08" width="3.15" height="3.15"/>
<rect x="70.12" y="451.75" width="3.15" height="3.15"/>
<rect x="72.86" y="452.11" width="3.15" height="3.15"/>
<rect x="68.98" y="455.3" width="3.15" height="3.15"/>
<rect x="71.57" y="455.5" width="3.15" height="3.15"/>
<rect x="89.86" y="449.51" width="7.31" height="35.39" fill="#fff" stroke="#000" stroke-width="1.3"/>
<path d="M93.52 434.29V463.73M91.12 434.29H95.92M91.12 463.73H95.92" stroke="#222" stroke-width="0.55" fill="none"/>
<circle cx="90.74" cy="433.42" r="1.65"/>
<circle cx="96.29" cy="435.67" r="1.65"/>
<circle cx="90.74" cy="438.96" r="1.65"/>
<circle cx="96.29" cy="448.66" r="1.65"/>
<circle cx="93.69" cy="463.73" r="1.65"/>
<circle cx="93.69" cy="470.66" r="1.65"/>
<rect x="103.19" y="443.97" width="7.31" height="40.93" fill="#b4b4b4" stroke="#000" stroke-width="1.3"/>
<path d="M106.85 429.96V456.8M104.45 429.96H109.25M104.45 456.8H109.25" stroke="#222" stroke-width="0.55" fill="none"/>
<rect x="105.1" y="414.01" width="3.15" height="3.15"/>
<rect x="105.1" y="423.19" width="3.15" height="3.15"/>
<rect x="105.1" y="430.98" width="3.15" height="3.15"/>
<rect x="102.51" y="436.18" width="3.15" height="3.15"/>
<rect x="107.7" y="437.04" width="3.15" height="3.15"/>
<rect x="105.1" y="434.44" width="3.15" height="3.15"/>
<rect x="103.37" y="441.89" width="3.15" height="3.15"/>
<rect x="106.84" y="442.24" width="3.15" height="3.15"/>
<rect x="105.1" y="444.84" width="3.15" height="3.15"/>
<rect x="102.85" y="447.09" width="3.15" height="3.15"/>
<rect x="107.35" y="447.43" width="3.15" height="3.15"/>
<rect x="105.1" y="450.03" width="3.15" height="3.15"/>
<rect x="103.89" y="452.63" width="3.15" height="3.15"/>
<rect x="106.49" y="452.98" width="3.15" height="3.15"/>
<rect x="105.1" y="474.62" width="3.15" height="3.15"/>
<rect x="102.26" y="442.38" width="3.15" height="3.15"/>
<rect x="105.28" y="442.64" width="3.15" height="3.15"/>
<rect x="107.97" y="442.54" width="3.15" height="3.15"/>
<rect x="103.81" y="446.29" width="3.15" height="3.15"/>
<rect x="106.61" y="446.2" width="3.15" height="3.15"/>
<rect x="102.74" y="449.67" width="3.15" height="3.15"/>
<rect x="105.52" y="449.84" width="3.15" height="3.15"/>
<rect x="107.84" y="450.05" width="3.15" height="3.15"/>
<rect x="103.64" y="453.58" width="3.15" height="3.15"/>
<rect x="106.88" y="453.56" width="3.15" height="3.15"/>
<rect x="124.84" y="443.79" width="7.31" height="41.11" fill="#fff" stroke="#000" stroke-width="1.3"/>
<path d="M128.5 425.11V461.13M126.1 425.11H130.9M126.1 461.13H130.9" stroke="#222" stroke-width="0.55" fill="none"/>
<circle cx="128.33" cy="415.58" r="1.65"/>
<circle cx="125.73" cy="433.77" r="1.65"/>
<circle cx="131.27" cy="432.21" r="1.65"/>
<circle cx="128.33" cy="442.43" r="1.65"/>
<circle cx="125.73" cy="454.2" r="1.65"/>
<circle cx="131.27" cy="454.72" r="1.65"/>
<circle cx="128.33" cy="467.54" r="1.65"/>
<rect x="138.01" y="438.77" width="7.14" height="46.13" fill="#b4b4b4" stroke="#000" stroke-width="1.3"/>
<path d="M141.58 424.41V452.13M139.18 424.41H143.98M139.18 452.13H143.98" stroke="#222" stroke-width="0.55" fill="none"/>
<rect x="140.09" y="409.68" width="3.15" height="3.15"/>
<rect x="140.95" y="419.38" width="3.15" height="3.15"/>
<rect x="138.88" y="422.32" width="3.15" height="3.15"/>
<rect x="137.14" y="427.52" width="3.15" height="3.15"/>
<rect x="142.34" y="427.52" width="3.15" height="3.15"/>
<rect x="140.09" y="430.11" width="3.15" height="3.15"/>
<rect x="138.01" y="437.04" width="3.15" height="3.15"/>
<rect x="141.82" y="437.39" width="3.15" height="3.15"/>
<rect x="140.09" y="440.16" width="3.15" height="3.15"/>
<rect x="138.01" y="443.1" width="3.15" height="3.15"/>
<rect x="141.99" y="443.62" width="3.15" height="3.15"/>
<rect x="140.09" y="446.05" width="3.15" height="3.15"/>
<rect x="138.53" y="449.16" width="3.15" height="3.15"/>
<rect x="141.47" y="450.03" width="3.15" height="3.15"/>
<rect x="140.09" y="454.71" width="3.15" height="3.15"/>
<rect x="140.09" y="459.9" width="3.15" height="3.15"/>
<rect x="137.17" y="437.52" width="3.15" height="3.15"/>
<rect x="140.16" y="437.44" width="3.15" height="3.15"/>
<rect x="142.7" y="437.14" width="3.15" height="3.15"/>
<rect x="138.74" y="440.79" width="3.15" height="3.15"/>
<rect x="141.23" y="441.13" width="3.15" height="3.15"/>
<rect x="137.42" y="444.58" width="3.15" height="3.15"/>
<rect x="140" y="444.24" width="3.15" height="3.15"/>
<rect x="142.86" y="444.25" width="3.15" height="3.15"/>
<rect x="138.73" y="448.22" width="3.15" height="3.15"/>
<rect x="141.32" y="447.91" width="3.15" height="3.15"/>
<rect x="137.13" y="451.91" width="3.15" height="3.15"/>
<rect x="139.91" y="451.65" width="3.15" height="3.15"/>
<rect x="142.8" y="451.77" width="3.15" height="3.15"/>
<path d="M49.8 384.3V485.4M49.3 484.9H150.9" stroke="#000" stroke-width="1.25" fill="none"/>
<path d="M45.6 484.9H49.8" stroke="#000" stroke-width="1.2"/>
<text x="44.5" y="487.45" text-anchor="end" font-size="7.4" font-weight="700" stroke="#000" stroke-width="0.22">0</text>
<path d="M45.6 459.88H49.8" stroke="#000" stroke-width="1.2"/>
<text x="44.5" y="462.43" text-anchor="end" font-size="7.4" font-weight="700" stroke="#000" stroke-width="0.22">1</text>
<path d="M45.6 434.85H49.8" stroke="#000" stroke-width="1.2"/>
<text x="44.5" y="437.4" text-anchor="end" font-size="7.4" font-weight="700" stroke="#000" stroke-width="0.22">2</text>
<path d="M45.6 409.82H49.8" stroke="#000" stroke-width="1.2"/>
<text x="44.5" y="412.38" text-anchor="end" font-size="7.4" font-weight="700" stroke="#000" stroke-width="0.22">3</text>
<path d="M45.6 384.8H49.8" stroke="#000" stroke-width="1.2"/>
<text x="44.5" y="387.35" text-anchor="end" font-size="7.4" font-weight="700" stroke="#000" stroke-width="0.22">4</text>
<path d="M65.29 484.9V489" stroke="#000" stroke-width="1.2"/>
<text x="65.29" y="497" text-anchor="middle" font-size="7.4" font-weight="700" stroke="#000" stroke-width="0.22">3d</text>
<path d="M100.18 484.9V489" stroke="#000" stroke-width="1.2"/>
<text x="100.18" y="497" text-anchor="middle" font-size="7.4" font-weight="700" stroke="#000" stroke-width="0.22">7d</text>
<path d="M134.99 484.9V489" stroke="#000" stroke-width="1.2"/>
<text x="134.99" y="497" text-anchor="middle" font-size="7.4" font-weight="700" stroke="#000" stroke-width="0.22">14d</text>
<text transform="translate(35.5 434.85) rotate(-90)" text-anchor="middle" font-size="8.5" fill="#111" stroke="#111" stroke-width="0.22">absorbance (450 nm)</text>
<text x="16.3" y="380.9" font-size="13.2" font-weight="700" fill="#222">A</text>
<circle cx="177.9" cy="391" r="1.65"/>
<rect x="176.3" y="403.7" width="3.2" height="3.2"/>
<text x="189.3" y="393.8" font-size="8.3" fill="#111" stroke="#111" stroke-width="0.22">male</text>
<text x="189.3" y="408.1" font-size="8.3" fill="#111" stroke="#111" stroke-width="0.22">female</text>
<!-- panel 2B -->
<rect x="269.01" y="439.46" width="7.14" height="45.44" fill="#fff" stroke="#000" stroke-width="1.3"/>
<path d="M272.58 424.76V452.82M270.18 424.76H274.98M270.18 452.82H274.98" stroke="#222" stroke-width="0.55" fill="none"/>
<circle cx="272.32" cy="412.98" r="1.65"/>
<circle cx="269.72" cy="429.96" r="1.65"/>
<circle cx="275.44" cy="429.61" r="1.65"/>
<circle cx="275.44" cy="437.75" r="1.65"/>
<circle cx="272.32" cy="439.48" r="1.65"/>
<circle cx="269.72" cy="443.47" r="1.65"/>
<circle cx="275.44" cy="441.21" r="1.65"/>
<circle cx="272.32" cy="452.13" r="1.65"/>
<circle cx="272.32" cy="461.13" r="1.65"/>
<rect x="282" y="442.93" width="7.14" height="41.97" fill="#b4b4b4" stroke="#000" stroke-width="1.3"/>
<path d="M285.57 429.96V455.07M283.17 429.96H287.97M283.17 455.07H287.97" stroke="#222" stroke-width="0.55" fill="none"/>
<rect x="282.87" y="422.84" width="3.15" height="3.15"/>
<rect x="285.47" y="422.84" width="3.15" height="3.15"/>
<rect x="284.6" y="427.52" width="3.15" height="3.15"/>
<rect x="281.65" y="429.77" width="3.15" height="3.15"/>
<rect x="287.2" y="430.46" width="3.15" height="3.15"/>
<rect x="283.73" y="436.18" width="3.15" height="3.15"/>
<rect x="284.25" y="441.89" width="3.15" height="3.15"/>
<rect x="284.25" y="445.7" width="3.15" height="3.15"/>
<rect x="282.87" y="451.76" width="3.15" height="3.15"/>
<rect x="286.33" y="451.76" width="3.15" height="3.15"/>
<rect x="284.25" y="455.23" width="3.15" height="3.15"/>
<rect x="284.25" y="461.29" width="3.15" height="3.15"/>
<rect x="303.99" y="443.1" width="7.14" height="41.8" fill="#fff" stroke="#000" stroke-width="1.3"/>
<path d="M307.56 435.15V449.87M305.16 435.15H309.96M305.16 449.87H309.96" stroke="#222" stroke-width="0.55" fill="none"/>
<circle cx="307.48" cy="432.55" r="1.65"/>
<circle cx="310.42" cy="436.02" r="1.65"/>
<circle cx="304.88" cy="437.75" r="1.65"/>
<circle cx="307.48" cy="438.62" r="1.65"/>
<circle cx="305.23" cy="444.68" r="1.65"/>
<circle cx="309.55" cy="444.68" r="1.65"/>
<circle cx="307.48" cy="448.14" r="1.65"/>
<circle cx="307.48" cy="451.61" r="1.65"/>
<circle cx="307.48" cy="453.86" r="1.65"/>
<rect x="316.98" y="443.97" width="7.31" height="40.93" fill="#b4b4b4" stroke="#000" stroke-width="1.3"/>
<path d="M320.64 430.48V456.8M318.24 430.48H323.04M318.24 456.8H323.04" stroke="#222" stroke-width="0.55" fill="none"/>
<rect x="318.89" y="413.66" width="3.15" height="3.15"/>
<rect x="318.89" y="423.19" width="3.15" height="3.15"/>
<rect x="320.1" y="431.85" width="3.15" height="3.15"/>
<rect x="317.51" y="433.58" width="3.15" height="3.15"/>
<rect x="318.89" y="437.39" width="3.15" height="3.15"/>
<rect x="316.12" y="442.24" width="3.15" height="3.15"/>
<rect x="321.84" y="443.1" width="3.15" height="3.15"/>
<rect x="317.51" y="445.35" width="3.15" height="3.15"/>
<rect x="320.62" y="446.05" width="3.15" height="3.15"/>
<rect x="318.89" y="448.3" width="3.15" height="3.15"/>
<rect x="318.89" y="461.81" width="3.15" height="3.15"/>
<rect x="318.89" y="469.43" width="3.15" height="3.15"/>
<rect x="318.89" y="474.62" width="3.15" height="3.15"/>
<rect x="338.98" y="439.64" width="6.97" height="45.26" fill="#fff" stroke="#000" stroke-width="1.3"/>
<path d="M342.46 431.34V447.28M340.06 431.34H344.86M340.06 447.28H344.86" stroke="#222" stroke-width="0.55" fill="none"/>
<circle cx="342.46" cy="427.71" r="1.65"/>
<circle cx="339.86" cy="431.69" r="1.65"/>
<circle cx="345.06" cy="433.77" r="1.65"/>
<circle cx="345.06" cy="438.62" r="1.65"/>
<circle cx="342.46" cy="441.21" r="1.65"/>
<circle cx="345.06" cy="443.47" r="1.65"/>
<circle cx="339.86" cy="448.14" r="1.65"/>
<circle cx="345.06" cy="449.01" r="1.65"/>
<circle cx="342.46" cy="455.07" r="1.65"/>
<rect x="351.97" y="439.12" width="7.31" height="45.78" fill="#b4b4b4" stroke="#000" stroke-width="1.3"/>
<path d="M355.62 421.3V455.94M353.22 421.3H358.02M353.22 455.94H358.02" stroke="#222" stroke-width="0.55" fill="none"/>
<rect x="353.88" y="409.68" width="3.15" height="3.15"/>
<rect x="353.88" y="413.66" width="3.15" height="3.15"/>
<rect x="356.47" y="419.38" width="3.15" height="3.15"/>
<rect x="353.88" y="421.8" width="3.15" height="3.15"/>
<rect x="350.93" y="427.52" width="3.15" height="3.15"/>
<rect x="356.47" y="427.52" width="3.15" height="3.15"/>
<rect x="353.88" y="431.5" width="3.15" height="3.15"/>
<rect x="356.47" y="437.04" width="3.15" height="3.15"/>
<rect x="353.88" y="444.84" width="3.15" height="3.15"/>
<rect x="353.88" y="450.03" width="3.15" height="3.15"/>
<rect x="355.61" y="452.63" width="3.15" height="3.15"/>
<rect x="353.88" y="454.71" width="3.15" height="3.15"/>
<rect x="353.88" y="460.42" width="3.15" height="3.15"/>
<rect x="353.88" y="465.96" width="3.15" height="3.15"/>
<path d="M263.6 384.3V485.4M263.1 484.9H364.6" stroke="#000" stroke-width="1.25" fill="none"/>
<path d="M259.4 484.9H263.6" stroke="#000" stroke-width="1.2"/>
<text x="258.3" y="487.45" text-anchor="end" font-size="7.4" font-weight="700" stroke="#000" stroke-width="0.22">0</text>
<path d="M259.4 459.88H263.6" stroke="#000" stroke-width="1.2"/>
<text x="258.3" y="462.43" text-anchor="end" font-size="7.4" font-weight="700" stroke="#000" stroke-width="0.22">1</text>
<path d="M259.4 434.85H263.6" stroke="#000" stroke-width="1.2"/>
<text x="258.3" y="437.4" text-anchor="end" font-size="7.4" font-weight="700" stroke="#000" stroke-width="0.22">2</text>
<path d="M259.4 409.82H263.6" stroke="#000" stroke-width="1.2"/>
<text x="258.3" y="412.38" text-anchor="end" font-size="7.4" font-weight="700" stroke="#000" stroke-width="0.22">3</text>
<path d="M259.4 384.8H263.6" stroke="#000" stroke-width="1.2"/>
<text x="258.3" y="387.35" text-anchor="end" font-size="7.4" font-weight="700" stroke="#000" stroke-width="0.22">4</text>
<path d="M279.07 484.9V489" stroke="#000" stroke-width="1.2"/>
<text x="279.07" y="497" text-anchor="middle" font-size="7.4" font-weight="700" stroke="#000" stroke-width="0.22">3d</text>
<path d="M314.14 484.9V489" stroke="#000" stroke-width="1.2"/>
<text x="314.14" y="497" text-anchor="middle" font-size="7.4" font-weight="700" stroke="#000" stroke-width="0.22">7d</text>
<path d="M349.13 484.9V489" stroke="#000" stroke-width="1.2"/>
<text x="349.13" y="497" text-anchor="middle" font-size="7.4" font-weight="700" stroke="#000" stroke-width="0.22">14d</text>
<text transform="translate(249.3 434.85) rotate(-90)" text-anchor="middle" font-size="8.5" fill="#111" stroke="#111" stroke-width="0.22">absorbance (450 nm)</text>
<text x="226" y="380.9" font-size="13.2" font-weight="700" fill="#222">B</text>
<circle cx="391.7" cy="390.8" r="1.65"/>
<rect x="390.1" y="403.9" width="3.2" height="3.2"/>
<text x="403.1" y="393.6" font-size="8.3" fill="#111" stroke="#111" stroke-width="0.22">< 50 years</text>
<text x="403.1" y="408.3" font-size="8.3" fill="#111" stroke="#111" stroke-width="0.22">≥ 50 years</text>
<!-- panel 2C -->
<rect x="494.01" y="436.87" width="7.14" height="48.03" fill="#fff" stroke="#000" stroke-width="1.3"/>
<path d="M497.58 431.69V441.21M495.18 431.69H499.98M495.18 441.21H499.98" stroke="#222" stroke-width="0.55" fill="none"/>
<circle cx="494.72" cy="430.3" r="1.65"/>
<circle cx="500.44" cy="429.61" r="1.65"/>
<circle cx="497.32" cy="431.34" r="1.65"/>
<circle cx="497.32" cy="438.96" r="1.65"/>
<circle cx="500.44" cy="439.48" r="1.65"/>
<circle cx="494.72" cy="443.47" r="1.65"/>
<rect x="507" y="442.93" width="7.14" height="41.97" fill="#b4b4b4" stroke="#000" stroke-width="1.3"/>
<path d="M510.57 428.23V456.8M508.17 428.23H512.97M508.17 456.8H512.97" stroke="#222" stroke-width="0.55" fill="none"/>
<rect x="509.08" y="411.41" width="3.15" height="3.15"/>
<rect x="507.87" y="422.84" width="3.15" height="3.15"/>
<rect x="510.47" y="422.84" width="3.15" height="3.15"/>
<rect x="509.25" y="427.52" width="3.15" height="3.15"/>
<rect x="506.65" y="429.25" width="3.15" height="3.15"/>
<rect x="512.2" y="429.77" width="3.15" height="3.15"/>
<rect x="509.25" y="436.18" width="3.15" height="3.15"/>
<rect x="507.87" y="441.37" width="3.15" height="3.15"/>
<rect x="511.33" y="441.89" width="3.15" height="3.15"/>
<rect x="509.25" y="444.84" width="3.15" height="3.15"/>
<rect x="507" y="447.43" width="3.15" height="3.15"/>
<rect x="511.68" y="447.78" width="3.15" height="3.15"/>
<rect x="509.25" y="450.55" width="3.15" height="3.15"/>
<rect x="507.87" y="453.49" width="3.15" height="3.15"/>
<rect x="511.33" y="454.01" width="3.15" height="3.15"/>
<rect x="509.25" y="456.44" width="3.15" height="3.15"/>
<rect x="507.87" y="459.21" width="3.15" height="3.15"/>
<rect x="510.98" y="459.56" width="3.15" height="3.15"/>
<rect x="509.25" y="461.29" width="3.15" height="3.15"/>
<rect x="506.45" y="441.95" width="3.15" height="3.15"/>
<rect x="509.09" y="441.95" width="3.15" height="3.15"/>
<rect x="511.77" y="441.56" width="3.15" height="3.15"/>
<rect x="507.8" y="444.79" width="3.15" height="3.15"/>
<rect x="510.41" y="445.03" width="3.15" height="3.15"/>
<rect x="506.14" y="448.44" width="3.15" height="3.15"/>
<rect x="509.02" y="448.23" width="3.15" height="3.15"/>
<rect x="511.62" y="448.37" width="3.15" height="3.15"/>
<rect x="507.44" y="451.33" width="3.15" height="3.15"/>
<rect x="510.67" y="451.27" width="3.15" height="3.15"/>
<rect x="506.43" y="454.33" width="3.15" height="3.15"/>
<rect x="509.28" y="454.94" width="3.15" height="3.15"/>
<rect x="511.68" y="454.42" width="3.15" height="3.15"/>
<rect x="507.95" y="457.94" width="3.15" height="3.15"/>
<rect x="510.44" y="457.69" width="3.15" height="3.15"/>
<rect x="506.26" y="461.14" width="3.15" height="3.15"/>
<rect x="509.22" y="461.09" width="3.15" height="3.15"/>
<rect x="511.99" y="461.19" width="3.15" height="3.15"/>
<rect x="528.99" y="450.03" width="7.14" height="34.87" fill="#fff" stroke="#000" stroke-width="1.3"/>
<path d="M532.56 438.96V459.4M530.16 438.96H534.96M530.16 459.4H534.96" stroke="#222" stroke-width="0.55" fill="none"/>
<circle cx="532.48" cy="432.55" r="1.65"/>
<circle cx="532.48" cy="444.68" r="1.65"/>
<circle cx="530.23" cy="449.87" r="1.65"/>
<circle cx="535.07" cy="449.01" r="1.65"/>
<circle cx="532.48" cy="453.34" r="1.65"/>
<circle cx="532.48" cy="464.25" r="1.65"/>
<rect x="541.98" y="443.97" width="7.31" height="40.93" fill="#b4b4b4" stroke="#000" stroke-width="1.3"/>
<path d="M545.64 429.09V457.32M543.24 429.09H548.04M543.24 457.32H548.04" stroke="#222" stroke-width="0.55" fill="none"/>
<rect x="543.89" y="413.66" width="3.15" height="3.15"/>
<rect x="543.89" y="423.19" width="3.15" height="3.15"/>
<rect x="542.51" y="431.85" width="3.15" height="3.15"/>
<rect x="546.84" y="433.58" width="3.15" height="3.15"/>
<rect x="541.12" y="436.18" width="3.15" height="3.15"/>
<rect x="546.84" y="437.04" width="3.15" height="3.15"/>
<rect x="543.89" y="443.1" width="3.15" height="3.15"/>
<rect x="541.64" y="445.35" width="3.15" height="3.15"/>
<rect x="546.32" y="445.7" width="3.15" height="3.15"/>
<rect x="543.89" y="447.78" width="3.15" height="3.15"/>
<rect x="542.51" y="450.03" width="3.15" height="3.15"/>
<rect x="545.97" y="450.55" width="3.15" height="3.15"/>
<rect x="543.89" y="469.43" width="3.15" height="3.15"/>
<rect x="543.89" y="474.62" width="3.15" height="3.15"/>
<rect x="541.38" y="444.22" width="3.15" height="3.15"/>
<rect x="543.85" y="444.17" width="3.15" height="3.15"/>
<rect x="546.73" y="444.14" width="3.15" height="3.15"/>
<rect x="542.46" y="447.38" width="3.15" height="3.15"/>
<rect x="545.37" y="447.43" width="3.15" height="3.15"/>
<rect x="541.1" y="450.87" width="3.15" height="3.15"/>
<rect x="544.17" y="450.84" width="3.15" height="3.15"/>
<rect x="546.93" y="451" width="3.15" height="3.15"/>
<rect x="563.98" y="439.98" width="6.97" height="44.92" fill="#fff" stroke="#000" stroke-width="1.3"/>
<path d="M567.46 425.11V453.34M565.06 425.11H569.86M565.06 453.34H569.86" stroke="#222" stroke-width="0.55" fill="none"/>
<circle cx="567.46" cy="415.58" r="1.65"/>
<circle cx="567.46" cy="432.04" r="1.65"/>
<circle cx="570.06" cy="439.48" r="1.65"/>
<circle cx="570.06" cy="448.14" r="1.65"/>
<circle cx="564.86" cy="449.35" r="1.65"/>
<circle cx="567.46" cy="449.01" r="1.65"/>
<rect x="576.97" y="439.12" width="7.31" height="45.78" fill="#b4b4b4" stroke="#000" stroke-width="1.3"/>
<path d="M580.62 424.41V452.82M578.22 424.41H583.02M578.22 452.82H583.02" stroke="#222" stroke-width="0.55" fill="none"/>
<rect x="578.88" y="409.68" width="3.15" height="3.15"/>
<rect x="576.28" y="419.38" width="3.15" height="3.15"/>
<rect x="578.88" y="422.32" width="3.15" height="3.15"/>
<rect x="575.93" y="427.52" width="3.15" height="3.15"/>
<rect x="581.82" y="427.52" width="3.15" height="3.15"/>
<rect x="578.88" y="431.5" width="3.15" height="3.15"/>
<rect x="578.88" y="437.04" width="3.15" height="3.15"/>
<rect x="578.88" y="444.84" width="3.15" height="3.15"/>
<rect x="577.14" y="447.43" width="3.15" height="3.15"/>
<rect x="580.95" y="448.3" width="3.15" height="3.15"/>
<rect x="578.88" y="450.9" width="3.15" height="3.15"/>
<rect x="578.88" y="455.23" width="3.15" height="3.15"/>
<rect x="578.88" y="460.08" width="3.15" height="3.15"/>
<rect x="578.88" y="465.96" width="3.15" height="3.15"/>
<rect x="576.17" y="444.73" width="3.15" height="3.15"/>
<rect x="579.24" y="444.74" width="3.15" height="3.15"/>
<rect x="581.58" y="444.91" width="3.15" height="3.15"/>
<rect x="577.75" y="448.17" width="3.15" height="3.15"/>
<rect x="580.39" y="448.3" width="3.15" height="3.15"/>
<rect x="576.32" y="451.88" width="3.15" height="3.15"/>
<rect x="579.13" y="451.46" width="3.15" height="3.15"/>
<rect x="581.62" y="451.48" width="3.15" height="3.15"/>
<rect x="577.6" y="455.28" width="3.15" height="3.15"/>
<rect x="580.66" y="454.9" width="3.15" height="3.15"/>
<path d="M488.8 384.3V485.4M488.3 484.9H590.6" stroke="#000" stroke-width="1.25" fill="none"/>
<path d="M484.6 484.9H488.8" stroke="#000" stroke-width="1.2"/>
<text x="483.5" y="487.45" text-anchor="end" font-size="7.4" font-weight="700" stroke="#000" stroke-width="0.22">0</text>
<path d="M484.6 459.88H488.8" stroke="#000" stroke-width="1.2"/>
<text x="483.5" y="462.43" text-anchor="end" font-size="7.4" font-weight="700" stroke="#000" stroke-width="0.22">1</text>
<path d="M484.6 434.85H488.8" stroke="#000" stroke-width="1.2"/>
<text x="483.5" y="437.4" text-anchor="end" font-size="7.4" font-weight="700" stroke="#000" stroke-width="0.22">2</text>
<path d="M484.6 409.82H488.8" stroke="#000" stroke-width="1.2"/>
<text x="483.5" y="412.38" text-anchor="end" font-size="7.4" font-weight="700" stroke="#000" stroke-width="0.22">3</text>
<path d="M484.6 384.8H488.8" stroke="#000" stroke-width="1.2"/>
<text x="483.5" y="387.35" text-anchor="end" font-size="7.4" font-weight="700" stroke="#000" stroke-width="0.22">4</text>
<path d="M504.07 484.9V489" stroke="#000" stroke-width="1.2"/>
<text x="504.07" y="497" text-anchor="middle" font-size="7.4" font-weight="700" stroke="#000" stroke-width="0.22">3d</text>
<path d="M539.14 484.9V489" stroke="#000" stroke-width="1.2"/>
<text x="539.14" y="497" text-anchor="middle" font-size="7.4" font-weight="700" stroke="#000" stroke-width="0.22">7d</text>
<path d="M574.13 484.9V489" stroke="#000" stroke-width="1.2"/>
<text x="574.13" y="497" text-anchor="middle" font-size="7.4" font-weight="700" stroke="#000" stroke-width="0.22">14d</text>
<text transform="translate(475.1 434.85) rotate(-90)" text-anchor="middle" font-size="8.5" fill="#111" stroke="#111" stroke-width="0.22">absorbance (450 nm)</text>
<text x="451.5" y="380.9" font-size="13.2" font-weight="700" fill="#222">C</text>
<circle cx="616.6" cy="390.8" r="1.65"/>
<rect x="615" y="403.9" width="3.2" height="3.2"/>
<text x="627.8" y="393.6" font-size="8.3" fill="#111" stroke="#111" stroke-width="0.22">BMI < 25 kg/m²</text>
<text x="627.8" y="408.3" font-size="8.3" fill="#111" stroke="#111" stroke-width="0.22">BMI ≥ 25 kg/m²</text>
<!-- panel 2D -->
<rect x="53.49" y="610.7" width="7.14" height="40.5" fill="#fff" stroke="#000" stroke-width="1.3"/>
<path d="M57.06 598.07V622.32M54.66 598.07H59.46M54.66 622.32H59.46" stroke="#222" stroke-width="0.55" fill="none"/>
<circle cx="54.72" cy="592.01" r="1.65"/>
<circle cx="59.92" cy="591.49" r="1.65"/>
<circle cx="59.92" cy="597.21" r="1.65"/>
<circle cx="54.72" cy="598.42" r="1.65"/>
<circle cx="54.72" cy="607.08" r="1.65"/>
<circle cx="59.92" cy="608.47" r="1.65"/>
<circle cx="57.32" cy="612.28" r="1.65"/>
<circle cx="54.72" cy="617.82" r="1.65"/>
<circle cx="59.92" cy="619.2" r="1.65"/>
<circle cx="57.32" cy="621.8" r="1.65"/>
<circle cx="59.92" cy="623.01" r="1.65"/>
<circle cx="57.32" cy="629.25" r="1.65"/>
<rect x="66.82" y="609.83" width="6.97" height="41.37" fill="#b4b4b4" stroke="#000" stroke-width="1.3"/>
<path d="M70.31 599.29V619.2M67.91 599.29H72.71M67.91 619.2H72.71" stroke="#222" stroke-width="0.55" fill="none"/>
<rect x="68.73" y="596.85" width="3.15" height="3.15"/>
<rect x="68.73" y="602.91" width="3.15" height="3.15"/>
<rect x="68.73" y="608.97" width="3.15" height="3.15"/>
<rect x="68.73" y="621.44" width="3.15" height="3.15"/>
<rect x="88.13" y="613.3" width="7.14" height="37.9" fill="#fff" stroke="#000" stroke-width="1.3"/>
<path d="M91.7 597.55V627.52M89.3 597.55H94.1M89.3 627.52H94.1" stroke="#222" stroke-width="0.55" fill="none"/>
<circle cx="91.61" cy="592.36" r="1.65"/>
<circle cx="91.61" cy="598.42" r="1.65"/>
<circle cx="89.01" cy="600.15" r="1.65"/>
<circle cx="94.55" cy="602.75" r="1.65"/>
<circle cx="89.01" cy="604.48" r="1.65"/>
<circle cx="94.55" cy="606.21" r="1.65"/>
<circle cx="91.61" cy="613.14" r="1.65"/>
<circle cx="89.01" cy="616.61" r="1.65"/>
<circle cx="94.55" cy="617.47" r="1.65"/>
<circle cx="91.61" cy="637.39" r="1.65"/>
<circle cx="91.61" cy="642.93" r="1.65"/>
<rect x="101.12" y="606.71" width="7.31" height="44.49" fill="#b4b4b4" stroke="#000" stroke-width="1.3"/>
<path d="M104.77 590.11V621.28M102.37 590.11H107.17M102.37 621.28H107.17" stroke="#222" stroke-width="0.55" fill="none"/>
<rect x="103.37" y="581.26" width="3.15" height="3.15"/>
<rect x="100.77" y="608.97" width="3.15" height="3.15"/>
<rect x="105.97" y="609.84" width="3.15" height="3.15"/>
<rect x="103.37" y="615.9" width="3.15" height="3.15"/>
<rect x="122.77" y="608.97" width="7.31" height="42.23" fill="#fff" stroke="#000" stroke-width="1.3"/>
<path d="M126.42 593.23V623.53M124.02 593.23H128.82M124.02 623.53H128.82" stroke="#222" stroke-width="0.55" fill="none"/>
<circle cx="123.65" cy="588.38" r="1.65"/>
<circle cx="126.6" cy="591.15" r="1.65"/>
<circle cx="126.6" cy="594.09" r="1.65"/>
<circle cx="123.65" cy="596.34" r="1.65"/>
<circle cx="129.19" cy="596.34" r="1.65"/>
<circle cx="126.6" cy="599.29" r="1.65"/>
<circle cx="123.65" cy="605" r="1.65"/>
<circle cx="129.19" cy="606.21" r="1.65"/>
<circle cx="123.65" cy="613.14" r="1.65"/>
<circle cx="126.6" cy="615.74" r="1.65"/>
<circle cx="126.6" cy="621.8" r="1.65"/>
<circle cx="126.6" cy="627.86" r="1.65"/>
<circle cx="126.6" cy="634.27" r="1.65"/>
<rect x="135.75" y="604.98" width="7.31" height="46.22" fill="#b4b4b4" stroke="#000" stroke-width="1.3"/>
<path d="M139.41 585.09V623.01M137.01 585.09H141.81M137.01 623.01H141.81" stroke="#222" stroke-width="0.55" fill="none"/>
<rect x="137.66" y="576.93" width="3.15" height="3.15"/>
<rect x="136.28" y="605.16" width="3.15" height="3.15"/>
<rect x="139.74" y="605.85" width="3.15" height="3.15"/>
<rect x="137.66" y="621.44" width="3.15" height="3.15"/>
<path d="M48.3 551.8V651.7M47.8 651.2H148.2" stroke="#000" stroke-width="1.25" fill="none"/>
<path d="M44.1 651.2H48.3" stroke="#000" stroke-width="1.2"/>
<text x="43" y="653.75" text-anchor="end" font-size="7.4" font-weight="700" stroke="#000" stroke-width="0.22">0</text>
<path d="M44.1 626.48H48.3" stroke="#000" stroke-width="1.2"/>
<text x="43" y="629.02" text-anchor="end" font-size="7.4" font-weight="700" stroke="#000" stroke-width="0.22">1</text>
<path d="M44.1 601.75H48.3" stroke="#000" stroke-width="1.2"/>
<text x="43" y="604.3" text-anchor="end" font-size="7.4" font-weight="700" stroke="#000" stroke-width="0.22">2</text>
<path d="M44.1 577.02H48.3" stroke="#000" stroke-width="1.2"/>
<text x="43" y="579.57" text-anchor="end" font-size="7.4" font-weight="700" stroke="#000" stroke-width="0.22">3</text>
<path d="M44.1 552.3H48.3" stroke="#000" stroke-width="1.2"/>
<text x="43" y="554.85" text-anchor="end" font-size="7.4" font-weight="700" stroke="#000" stroke-width="0.22">4</text>
<path d="M63.64 651.2V655.3" stroke="#000" stroke-width="1.2"/>
<text x="63.64" y="663.8" text-anchor="middle" font-size="7.4" font-weight="700" stroke="#000" stroke-width="0.22">3d</text>
<path d="M98.28 651.2V655.3" stroke="#000" stroke-width="1.2"/>
<text x="98.28" y="663.8" text-anchor="middle" font-size="7.4" font-weight="700" stroke="#000" stroke-width="0.22">7d</text>
<path d="M132.92 651.2V655.3" stroke="#000" stroke-width="1.2"/>
<text x="132.92" y="663.8" text-anchor="middle" font-size="7.4" font-weight="700" stroke="#000" stroke-width="0.22">14d</text>
<text transform="translate(34 601.75) rotate(-90)" text-anchor="middle" font-size="8.5" fill="#111" stroke="#111" stroke-width="0.22">absorbance (450 nm)</text>
<text x="16.3" y="536.9" font-size="13.2" font-weight="700" fill="#222">D</text>
<circle cx="175.4" cy="559.1" r="1.65"/>
<rect x="173.8" y="572" width="3.2" height="3.2"/>
<text x="186.8" y="561.9" font-size="8.3" fill="#111" stroke="#111" stroke-width="0.22">rectus abdominis muscle</text>
<text x="186.8" y="576.4" font-size="8.3" fill="#111" stroke="#111" stroke-width="0.22">pectoralis major muscle</text>
<!-- panel 2E -->
<rect x="366.84" y="604.64" width="6.97" height="46.56" fill="#fff" stroke="#000" stroke-width="1.3"/>
<path d="M370.32 590.63V617.99M367.92 590.63H372.72M367.92 617.99H372.72" stroke="#222" stroke-width="0.55" fill="none"/>
<circle cx="370.32" cy="579.89" r="1.65"/>
<circle cx="370.32" cy="590.63" r="1.65"/>
<circle cx="367.72" cy="597.55" r="1.65"/>
<circle cx="372.92" cy="597.55" r="1.65"/>
<circle cx="367.72" cy="606.21" r="1.65"/>
<circle cx="372.92" cy="607.08" r="1.65"/>
<circle cx="370.32" cy="609.68" r="1.65"/>
<circle cx="372.92" cy="611.41" r="1.65"/>
<circle cx="367.72" cy="622.67" r="1.65"/>
<circle cx="372.92" cy="622.67" r="1.65"/>
<rect x="379.82" y="610.7" width="6.97" height="40.5" fill="#b4b4b4" stroke="#000" stroke-width="1.3"/>
<path d="M383.31 598.42V621.8M380.91 598.42H385.71M380.91 621.8H385.71" stroke="#222" stroke-width="0.55" fill="none"/>
<rect x="381.73" y="589.92" width="3.15" height="3.15"/>
<rect x="379.14" y="595.63" width="3.15" height="3.15"/>
<rect x="384.33" y="595.11" width="3.15" height="3.15"/>
<rect x="382.25" y="597.19" width="3.15" height="3.15"/>
<rect x="381.73" y="602.04" width="3.15" height="3.15"/>
<rect x="381.73" y="606.89" width="3.15" height="3.15"/>
<rect x="379.14" y="612.43" width="3.15" height="3.15"/>
<rect x="384.33" y="613.3" width="3.15" height="3.15"/>
<rect x="381.73" y="615.9" width="3.15" height="3.15"/>
<rect x="379.14" y="617.63" width="3.15" height="3.15"/>
<rect x="383.47" y="618.49" width="3.15" height="3.15"/>
<rect x="382.6" y="625.42" width="3.15" height="3.15"/>
<rect x="380.87" y="627.5" width="3.15" height="3.15"/>
<rect x="401.47" y="607.58" width="6.97" height="43.62" fill="#fff" stroke="#000" stroke-width="1.3"/>
<path d="M404.96 597.55V617.13M402.56 597.55H407.36M402.56 617.13H407.36" stroke="#222" stroke-width="0.55" fill="none"/>
<circle cx="404.96" cy="591.84" r="1.65"/>
<circle cx="402.01" cy="599.29" r="1.65"/>
<circle cx="407.55" cy="599.29" r="1.65"/>
<circle cx="404.96" cy="601.02" r="1.65"/>
<circle cx="402.01" cy="604.48" r="1.65"/>
<circle cx="407.55" cy="604.48" r="1.65"/>
<circle cx="402.01" cy="609.68" r="1.65"/>
<circle cx="407.55" cy="611.41" r="1.65"/>
<circle cx="404.96" cy="613.14" r="1.65"/>
<circle cx="403.23" cy="616.61" r="1.65"/>
<circle cx="404.96" cy="620.07" r="1.65"/>
<rect x="414.46" y="615.03" width="6.97" height="36.17" fill="#b4b4b4" stroke="#000" stroke-width="1.3"/>
<path d="M417.95 599.81V629.25M415.55 599.81H420.35M415.55 629.25H420.35" stroke="#222" stroke-width="0.55" fill="none"/>
<rect x="416.37" y="580.91" width="3.15" height="3.15"/>
<rect x="413.77" y="600.66" width="3.15" height="3.15"/>
<rect x="416.37" y="600.31" width="3.15" height="3.15"/>
<rect x="418.97" y="600.66" width="3.15" height="3.15"/>
<rect x="414.64" y="602.91" width="3.15" height="3.15"/>
<rect x="418.1" y="603.25" width="3.15" height="3.15"/>
<rect x="416.37" y="610.7" width="3.15" height="3.15"/>
<rect x="414.64" y="613.3" width="3.15" height="3.15"/>
<rect x="418.1" y="614.16" width="3.15" height="3.15"/>
<rect x="416.37" y="615.9" width="3.15" height="3.15"/>
<rect x="416.37" y="628.89" width="3.15" height="3.15"/>
<rect x="416.37" y="635.81" width="3.15" height="3.15"/>
<rect x="416.37" y="641.01" width="3.15" height="3.15"/>
<rect x="436.11" y="604.46" width="6.97" height="46.74" fill="#fff" stroke="#000" stroke-width="1.3"/>
<path d="M439.6 598.42V612.28M437.2 598.42H442M437.2 612.28H442" stroke="#222" stroke-width="0.55" fill="none"/>
<circle cx="439.6" cy="590.97" r="1.65"/>
<circle cx="439.6" cy="594.44" r="1.65"/>
<circle cx="437.86" cy="598.77" r="1.65"/>
<circle cx="441.33" cy="598.77" r="1.65"/>
<circle cx="439.6" cy="601.88" r="1.65"/>
<circle cx="437" cy="606.21" r="1.65"/>
<circle cx="442.19" cy="606.21" r="1.65"/>
<circle cx="439.6" cy="609.68" r="1.65"/>
<circle cx="442.19" cy="613.14" r="1.65"/>
<circle cx="437" cy="616.61" r="1.65"/>
<circle cx="439.6" cy="615.74" r="1.65"/>
<rect x="449.1" y="608.45" width="6.97" height="42.75" fill="#b4b4b4" stroke="#000" stroke-width="1.3"/>
<path d="M452.58 590.63V625.27M450.18 590.63H454.98M450.18 625.27H454.98" stroke="#222" stroke-width="0.55" fill="none"/>
<rect x="450.66" y="576.93" width="3.15" height="3.15"/>
<rect x="450.66" y="580.91" width="3.15" height="3.15"/>
<rect x="450.66" y="586.8" width="3.15" height="3.15"/>
<rect x="449.28" y="594.77" width="3.15" height="3.15"/>
<rect x="452.39" y="594.77" width="3.15" height="3.15"/>
<rect x="450.66" y="602.04" width="3.15" height="3.15"/>
<rect x="450.66" y="611.57" width="3.15" height="3.15"/>
<rect x="450.66" y="615.9" width="3.15" height="3.15"/>
<rect x="449.28" y="621.09" width="3.15" height="3.15"/>
<rect x="452.74" y="621.09" width="3.15" height="3.15"/>
<rect x="450.66" y="625.42" width="3.15" height="3.15"/>
<rect x="450.66" y="632" width="3.15" height="3.15"/>
<path d="M361.6 551.6V651.7M361.1 651.2H461.6" stroke="#000" stroke-width="1.25" fill="none"/>
<path d="M357.4 651.2H361.6" stroke="#000" stroke-width="1.2"/>
<text x="356.3" y="653.75" text-anchor="end" font-size="7.4" font-weight="700" stroke="#000" stroke-width="0.22">0</text>
<path d="M357.4 626.43H361.6" stroke="#000" stroke-width="1.2"/>
<text x="356.3" y="628.98" text-anchor="end" font-size="7.4" font-weight="700" stroke="#000" stroke-width="0.22">1</text>
<path d="M357.4 601.65H361.6" stroke="#000" stroke-width="1.2"/>
<text x="356.3" y="604.2" text-anchor="end" font-size="7.4" font-weight="700" stroke="#000" stroke-width="0.22">2</text>
<path d="M357.4 576.88H361.6" stroke="#000" stroke-width="1.2"/>
<text x="356.3" y="579.42" text-anchor="end" font-size="7.4" font-weight="700" stroke="#000" stroke-width="0.22">3</text>
<path d="M357.4 552.1H361.6" stroke="#000" stroke-width="1.2"/>
<text x="356.3" y="554.65" text-anchor="end" font-size="7.4" font-weight="700" stroke="#000" stroke-width="0.22">4</text>
<path d="M376.81 651.2V655.3" stroke="#000" stroke-width="1.2"/>
<text x="376.81" y="663.3" text-anchor="middle" font-size="7.4" font-weight="700" stroke="#000" stroke-width="0.22">3d</text>
<path d="M411.45 651.2V655.3" stroke="#000" stroke-width="1.2"/>
<text x="411.45" y="663.3" text-anchor="middle" font-size="7.4" font-weight="700" stroke="#000" stroke-width="0.22">7d</text>
<path d="M446.09 651.2V655.3" stroke="#000" stroke-width="1.2"/>
<text x="446.09" y="663.3" text-anchor="middle" font-size="7.4" font-weight="700" stroke="#000" stroke-width="0.22">14d</text>
<text transform="translate(347.75 601.65) rotate(-90)" text-anchor="middle" font-size="8.5" fill="#111" stroke="#111" stroke-width="0.22">absorbance (450 nm)</text>
<text x="323.5" y="536.7" font-size="13.2" font-weight="700" fill="#222">E</text>
<circle cx="488" cy="558" r="1.65"/>
<rect x="486.4" y="570.6" width="3.2" height="3.2"/>
<text x="499.7" y="560.8" font-size="8.3" fill="#111" stroke="#111" stroke-width="0.22">Chemotherapy received</text>
<text x="499.7" y="575" font-size="8.3" fill="#111" stroke="#111" stroke-width="0.22">Chemotherapy not received</text>
</svg>
</body></html>
